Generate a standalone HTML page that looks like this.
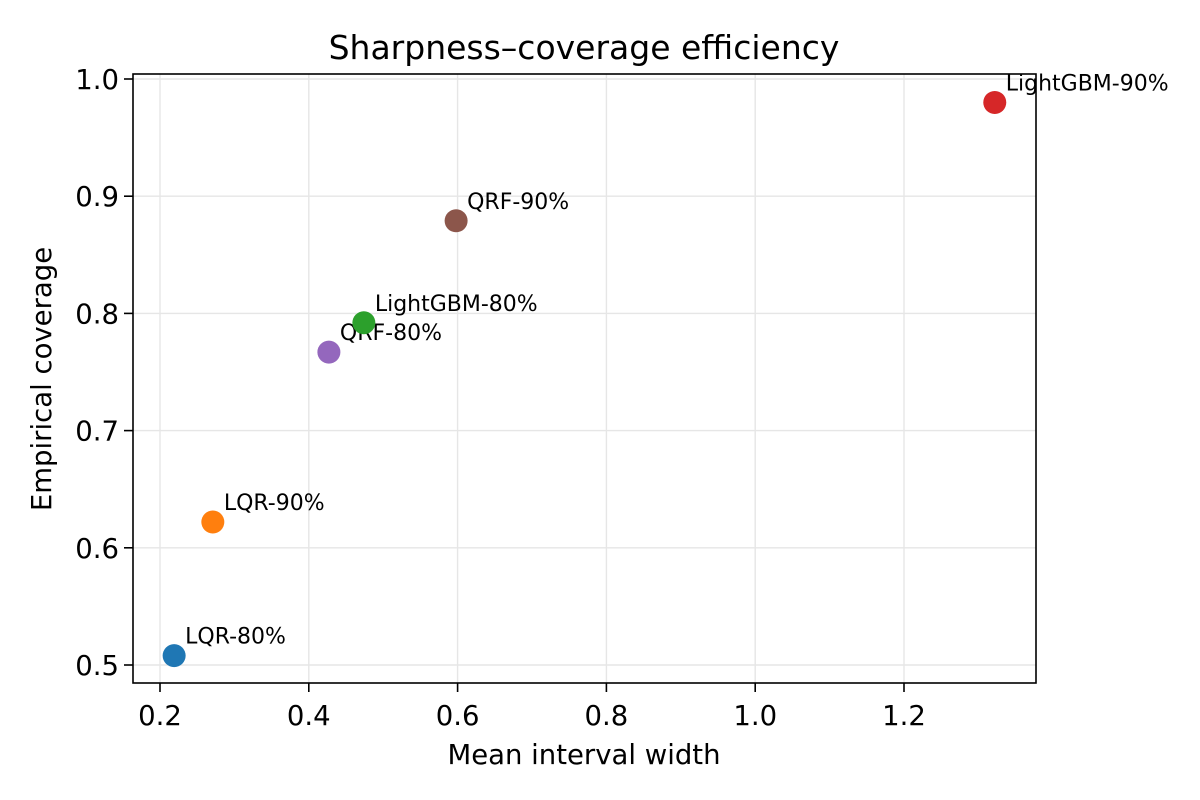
<!DOCTYPE html>
<html><head><meta charset="utf-8"><style>
body{margin:0;background:#fff;}
svg{display:block;font-family:"DejaVu Sans","Liberation Sans",sans-serif;}
</style></head><body>
<svg id="chart" width="1200" height="800" xmlns="http://www.w3.org/2000/svg">
<rect width="1200" height="800" fill="#fff"/>
<g id="grid"></g>
<g id="marks"></g>
<rect x="133" y="74" width="903" height="609" fill="none" stroke="#000" stroke-width="1.6"/>
<g id="axes"></g>
<text x="584" y="59" text-anchor="middle" font-size="33">Sharpness–coverage efficiency</text>
<text x="584" y="764" text-anchor="middle" font-size="27.5">Mean interval width</text>
<text x="51" y="379" text-anchor="middle" font-size="27.5" transform="rotate(-90 51 379)">Empirical coverage</text>
</svg>
<script>
const labels=["LQR-80%","LQR-90%","QRF-80%","LightGBM-80%","QRF-90%","LightGBM-90%"];
const widths=[0.219,0.271,0.427,0.474,0.598,1.322];
const coverage=[0.508,0.622,0.767,0.792,0.879,0.980];
const colors=["#1f77b4","#ff7f0e","#9467bd","#2ca02c","#8c564b","#d62728"];
const xTicks=[0.2,0.4,0.6,0.8,1.0,1.2];
const yTicks=[0.5,0.6,0.7,0.8,0.9,1.0];
const X=v=>160+(v-0.2)*744;
const Y=v=>665-(v-0.5)*1172;
const NS="http://www.w3.org/2000/svg";
function mk(t,a,p){const e=document.createElementNS(NS,t);for(const k in a)e.setAttribute(k,a[k]);p.appendChild(e);return e;}
const grid=document.getElementById('grid'),axes=document.getElementById('axes'),marks=document.getElementById('marks');
xTicks.forEach(v=>{const x=X(v);
 const g=mk('line',{x1:x,x2:x,y1:74,y2:683,stroke:'#e6e6e6','stroke-width':1.4},grid);
 
 
 mk('line',{x1:x,x2:x,y1:683,y2:692,stroke:'#000','stroke-width':1.6},axes);
 const t=mk('text',{x:x,y:725,'text-anchor':'middle','font-size':27.5},axes);t.textContent=v.toFixed(1);
 
 });
yTicks.forEach(v=>{const y=Y(v);
 const g=mk('line',{x1:133,x2:1036,y1:y,y2:y,stroke:'#e6e6e6','stroke-width':1.4},grid);
 
 
 mk('line',{x1:124,x2:133,y1:y,y2:y,stroke:'#000','stroke-width':1.6},axes);
 const t=mk('text',{x:119,y:y+10,'text-anchor':'end','font-size':27.5},axes);t.textContent=v.toFixed(1);
 
 });
labels.forEach((l,i)=>{const x=X(widths[i]),y=Y(coverage[i]);
 const c=mk('circle',{cx:x,cy:y,r:11.5,fill:colors[i]},marks);
 
 
 const t=mk('text',{x:x+11,y:y-12,'font-size':22},marks);t.textContent=l;
 
 });
</script>
</body></html>
